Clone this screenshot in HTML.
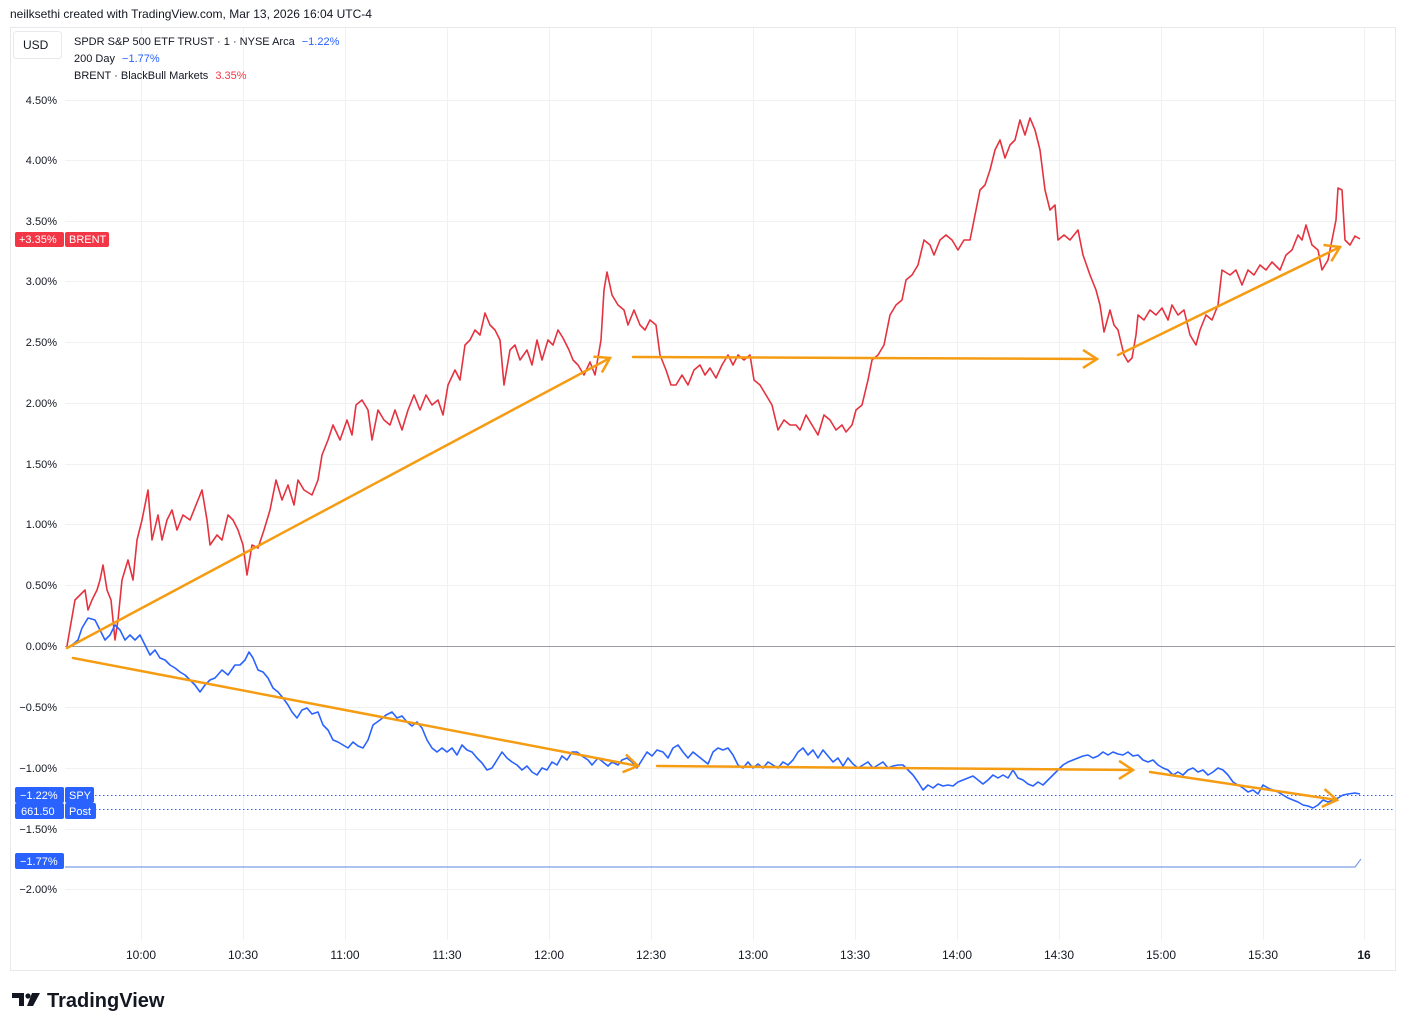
<!DOCTYPE html>
<html><head><meta charset="utf-8"><style>
html,body{margin:0;padding:0;background:#fff;}
body{width:1405px;height:1030px;position:relative;overflow:hidden;font-family:"Liberation Sans","DejaVu Sans",sans-serif;}
</style></head><body>
<svg width="1405" height="1030" xmlns="http://www.w3.org/2000/svg" style="position:absolute;left:0;top:0" font-family="Liberation Sans, DejaVu Sans, sans-serif">
<defs>
<marker id="ah" viewBox="0 0 20 20" refX="18" refY="10" markerWidth="20" markerHeight="20" markerUnits="userSpaceOnUse" orient="auto">
<path d="M4,1 L18,10 L4,19" fill="none" stroke="#f59c12" stroke-width="2.5"/>
</marker>
</defs>
<text x="10" y="18" font-size="12" fill="#131722">neilksethi created with TradingView.com, Mar 13, 2026 16:04 UTC-4</text>
<rect x="10.5" y="27.5" width="1385" height="943" fill="none" stroke="#e8e9ec"/>
<!-- grid -->
<g stroke="#f0f1f3" stroke-width="1">
<line x1="141.5" y1="28" x2="141.5" y2="940"/><line x1="243.5" y1="28" x2="243.5" y2="940"/><line x1="345.5" y1="28" x2="345.5" y2="940"/><line x1="447.5" y1="28" x2="447.5" y2="940"/><line x1="549.5" y1="28" x2="549.5" y2="940"/><line x1="651.5" y1="28" x2="651.5" y2="940"/><line x1="753.5" y1="28" x2="753.5" y2="940"/><line x1="855.5" y1="28" x2="855.5" y2="940"/><line x1="957.5" y1="28" x2="957.5" y2="940"/><line x1="1059.5" y1="28" x2="1059.5" y2="940"/><line x1="1161.5" y1="28" x2="1161.5" y2="940"/><line x1="1263.5" y1="28" x2="1263.5" y2="940"/><line x1="1364.5" y1="28" x2="1364.5" y2="940"/>
<line x1="65" y1="100.5" x2="1395" y2="100.5"/><line x1="65" y1="160.5" x2="1395" y2="160.5"/><line x1="65" y1="221.5" x2="1395" y2="221.5"/><line x1="65" y1="281.5" x2="1395" y2="281.5"/><line x1="65" y1="342.5" x2="1395" y2="342.5"/><line x1="65" y1="403.5" x2="1395" y2="403.5"/><line x1="65" y1="464.5" x2="1395" y2="464.5"/><line x1="65" y1="524.5" x2="1395" y2="524.5"/><line x1="65" y1="585.5" x2="1395" y2="585.5"/><line x1="65" y1="707.5" x2="1395" y2="707.5"/><line x1="65" y1="768.5" x2="1395" y2="768.5"/><line x1="65" y1="829.5" x2="1395" y2="829.5"/><line x1="65" y1="889.5" x2="1395" y2="889.5"/>
</g>
<line x1="65" y1="646.5" x2="1395" y2="646.5" stroke="#9a9ca3" stroke-width="1"/>
<!-- y labels -->
<g font-size="11" fill="#131722" text-anchor="end">
<text x="57" y="104">4.50%</text><text x="57" y="164">4.00%</text><text x="57" y="225">3.50%</text><text x="57" y="285">3.00%</text><text x="57" y="346">2.50%</text><text x="57" y="407">2.00%</text><text x="57" y="468">1.50%</text><text x="57" y="528">1.00%</text><text x="57" y="589">0.50%</text><text x="57" y="650">0.00%</text><text x="57" y="711">−0.50%</text><text x="57" y="772">−1.00%</text><text x="57" y="833">−1.50%</text><text x="57" y="893">−2.00%</text>
</g>
<g font-size="12" fill="#131722" text-anchor="middle">
<text x="141" y="959">10:00</text><text x="243" y="959">10:30</text><text x="345" y="959">11:00</text><text x="447" y="959">11:30</text><text x="549" y="959">12:00</text><text x="651" y="959">12:30</text><text x="753" y="959">13:00</text><text x="855" y="959">13:30</text><text x="957" y="959">14:00</text><text x="1059" y="959">14:30</text><text x="1161" y="959">15:00</text><text x="1263" y="959">15:30</text><text x="1364" y="959" font-weight="bold">16</text>
</g>
<!-- legend -->
<rect x="13.5" y="31.5" width="48" height="27" rx="3" fill="#fff" stroke="#e8e9ec"/>
<text x="23" y="49" font-size="12" fill="#131722">USD</text>
<g font-size="11" fill="#131722">
<text x="74" y="45">SPDR S&amp;P 500 ETF TRUST · 1 · NYSE Arca <tspan fill="#2962ff" dx="4">−1.22%</tspan></text>
<text x="74" y="62">200 Day <tspan fill="#2962ff" dx="4">−1.77%</tspan></text>
<text x="74" y="79">BRENT · BlackBull Markets <tspan fill="#f23645" dx="4">3.35%</tspan></text>
</g>
<!-- dotted lines -->
<line x1="95" y1="795.5" x2="1395" y2="795.5" stroke="#2962ff" stroke-dasharray="1.5,2.5" stroke-width="1"/>
<line x1="95" y1="809.5" x2="1395" y2="809.5" stroke="#2962ff" stroke-dasharray="1.5,2.5" stroke-width="1"/>
<!-- 200 day -->
<polyline points="65,867 1355,867 1361,859" fill="none" stroke="#7b9ee8" stroke-width="1.2"/>
<!-- red -->
<polyline fill="none" stroke="#e5323f" stroke-width="1.6" stroke-linejoin="round" points="67,646 75,600 80,595 85,590 88,610 92,600 97,590 100,580 103,565 107,590 111,600 115,640 118,620 122,580 128,560 133,580 137,540 142,520 148,490 152,540 158,515 162,540 167,520 172,510 177,530 183,515 190,520 196,505 202,490 207,520 210,545 217,535 222,540 228,515 233,520 238,530 243,545 247,575 252,545 258,548 264,530 270,510 276,480 282,500 288,485 294,505 298,480 304,490 312,495 318,480 322,455 328,440 333,425 340,440 347,420 352,435 356,405 362,400 368,410 372,440 378,410 384,420 390,425 395,410 402,430 408,410 414,395 420,410 426,395 432,405 438,400 443,415 448,385 455,370 460,380 465,345 470,340 475,330 480,335 485,313 490,325 495,330 500,340 504,385 510,350 515,345 520,360 527,350 532,365 537,340 542,360 548,340 553,345 558,330 563,338 569,350 573,360 578,365 584,375 590,362 595,375 601,340 604,290 607,272 612,295 618,305 624,310 628,325 634,310 640,325 645,330 650,320 656,325 660,355 666,370 671,385 676,385 682,375 688,385 694,370 700,365 705,375 710,368 716,378 722,365 728,355 733,365 738,355 744,360 750,355 754,380 760,385 766,395 772,405 778,430 784,420 790,425 796,425 800,430 806,415 812,425 818,435 824,415 830,420 836,430 842,425 846,432 852,425 856,410 862,405 868,380 872,360 878,355 884,345 890,315 896,305 902,300 906,280 912,275 918,265 924,240 930,245 934,255 940,240 946,235 952,240 958,250 964,240 970,240 976,210 980,190 985,185 990,170 995,150 1000,140 1005,158 1010,145 1015,140 1020,120 1025,135 1030,118 1035,130 1040,150 1045,190 1050,210 1055,205 1058,240 1064,235 1070,240 1078,230 1083,255 1090,275 1096,290 1100,305 1104,332 1110,310 1114,325 1118,330 1124,355 1128,362 1132,358 1136,335 1138,315 1144,320 1150,310 1156,315 1162,308 1168,320 1172,305 1178,315 1184,310 1190,335 1196,345 1200,330 1206,315 1212,320 1218,305 1222,270 1230,275 1236,270 1242,285 1248,270 1254,275 1260,265 1266,270 1272,262 1280,270 1286,255 1292,250 1298,235 1302,240 1306,225 1312,245 1318,250 1322,270 1328,260 1332,240 1336,220 1338,188 1342,190 1345,240 1350,245 1355,236 1360,239"/>
<!-- blue -->
<polyline fill="none" stroke="#2962ff" stroke-width="1.6" stroke-linejoin="round" points="67,648 72,645 78,640 82,628 88,618 95,620 100,630 105,640 110,635 115,625 120,630 125,640 130,635 135,640 140,635 145,645 150,655 155,650 160,658 165,660 170,665 175,668 180,672 185,675 190,680 195,685 200,692 205,685 210,680 215,678 222,670 228,675 235,665 240,665 245,660 249,652 253,658 258,670 263,672 268,678 273,688 278,692 283,698 288,705 292,712 297,718 302,710 307,708 312,714 318,712 323,725 328,730 333,740 338,742 343,745 348,748 353,742 358,746 363,748 368,740 373,725 380,720 386,715 392,712 397,718 402,716 407,722 412,726 417,722 422,728 427,740 432,748 437,752 442,748 447,752 452,748 457,755 462,745 467,750 472,752 477,758 482,763 487,770 492,768 497,760 502,752 507,758 512,762 517,765 522,770 527,766 532,772 537,775 542,768 547,770 552,762 557,765 562,756 567,760 572,752 577,752 582,756 588,760 592,765 598,758 603,762 608,766 612,762 618,765 622,760 627,758 632,762 637,768 642,760 647,752 652,756 657,750 663,752 668,758 673,748 678,745 683,752 688,758 693,752 698,756 703,760 708,764 713,752 718,748 723,750 728,748 733,755 738,765 743,768 748,762 753,768 758,764 763,768 768,762 773,765 778,768 783,762 788,765 793,760 798,752 803,748 808,755 813,750 818,758 823,750 828,756 833,762 838,758 843,766 848,758 853,764 858,768 863,765 868,762 873,768 878,765 883,762 888,768 893,766 898,765 903,765 908,770 913,775 918,782 923,790 928,785 933,788 938,784 943,786 948,785 953,786 958,782 963,780 968,778 973,776 978,780 983,784 988,780 993,775 998,778 1003,775 1008,778 1013,770 1018,778 1023,780 1028,784 1033,786 1038,782 1043,785 1048,780 1053,775 1058,770 1063,765 1068,762 1073,760 1078,758 1083,756 1088,755 1093,758 1098,756 1103,752 1108,755 1113,752 1118,754 1123,755 1128,752 1133,756 1138,755 1143,760 1148,762 1153,760 1158,765 1163,768 1168,770 1173,775 1178,772 1183,775 1188,770 1193,768 1198,772 1203,770 1208,775 1213,772 1218,768 1223,770 1228,775 1233,782 1238,785 1243,788 1248,792 1253,790 1258,794 1263,785 1268,788 1273,790 1278,792 1283,795 1288,798 1293,800 1298,802 1303,805 1308,806 1313,808 1318,805 1323,800 1328,802 1333,800 1338,798 1343,795 1348,794 1355,793 1360,794"/>
<!-- orange arrows -->
<g stroke="#f59c12" stroke-width="2.5" fill="none" stroke-linecap="round">
<line x1="67" y1="648" x2="610" y2="358" marker-end="url(#ah)"/>
<line x1="633" y1="357" x2="1097" y2="359" marker-end="url(#ah)"/>
<line x1="1118" y1="355" x2="1340" y2="247" marker-end="url(#ah)"/>
<line x1="73" y1="658" x2="638" y2="766" marker-end="url(#ah)"/>
<line x1="657" y1="766" x2="1133" y2="770" marker-end="url(#ah)"/>
<line x1="1150" y1="772" x2="1337" y2="800" marker-end="url(#ah)"/>
</g>
<!-- badges -->
<g font-size="11" fill="#fff">
<rect x="15" y="232" width="49" height="15" rx="2" fill="#f23645"/><text x="19" y="243">+3.35%</text>
<rect x="65" y="232" width="44" height="15" rx="2" fill="#f23645"/><text x="69" y="243">BRENT</text>
<rect x="15" y="787" width="49" height="16" rx="2" fill="#2962ff"/><text x="20" y="799">−1.22%</text>
<rect x="65" y="787" width="29" height="16" rx="2" fill="#2962ff"/><text x="69" y="799">SPY</text>
<rect x="15" y="803" width="49" height="16" rx="2" fill="#2962ff"/><text x="21" y="815">661.50</text>
<rect x="65" y="803" width="31" height="16" rx="2" fill="#2962ff"/><text x="69" y="815">Post</text>
<rect x="15" y="853" width="49" height="16" rx="2" fill="#2962ff"/><text x="20" y="865">−1.77%</text>
</g>
<!-- logo -->
<g fill="#131722">
<path d="M12,993 h12 v13 h-5 v-8 h-7z"/><circle cx="28" cy="996" r="2.6"/><path d="M32,993 h8 l-7,13 h-6z"/>
</g>
<text x="47" y="1007" font-size="20" font-weight="bold" fill="#131722">TradingView</text>
</svg>
</body></html>
